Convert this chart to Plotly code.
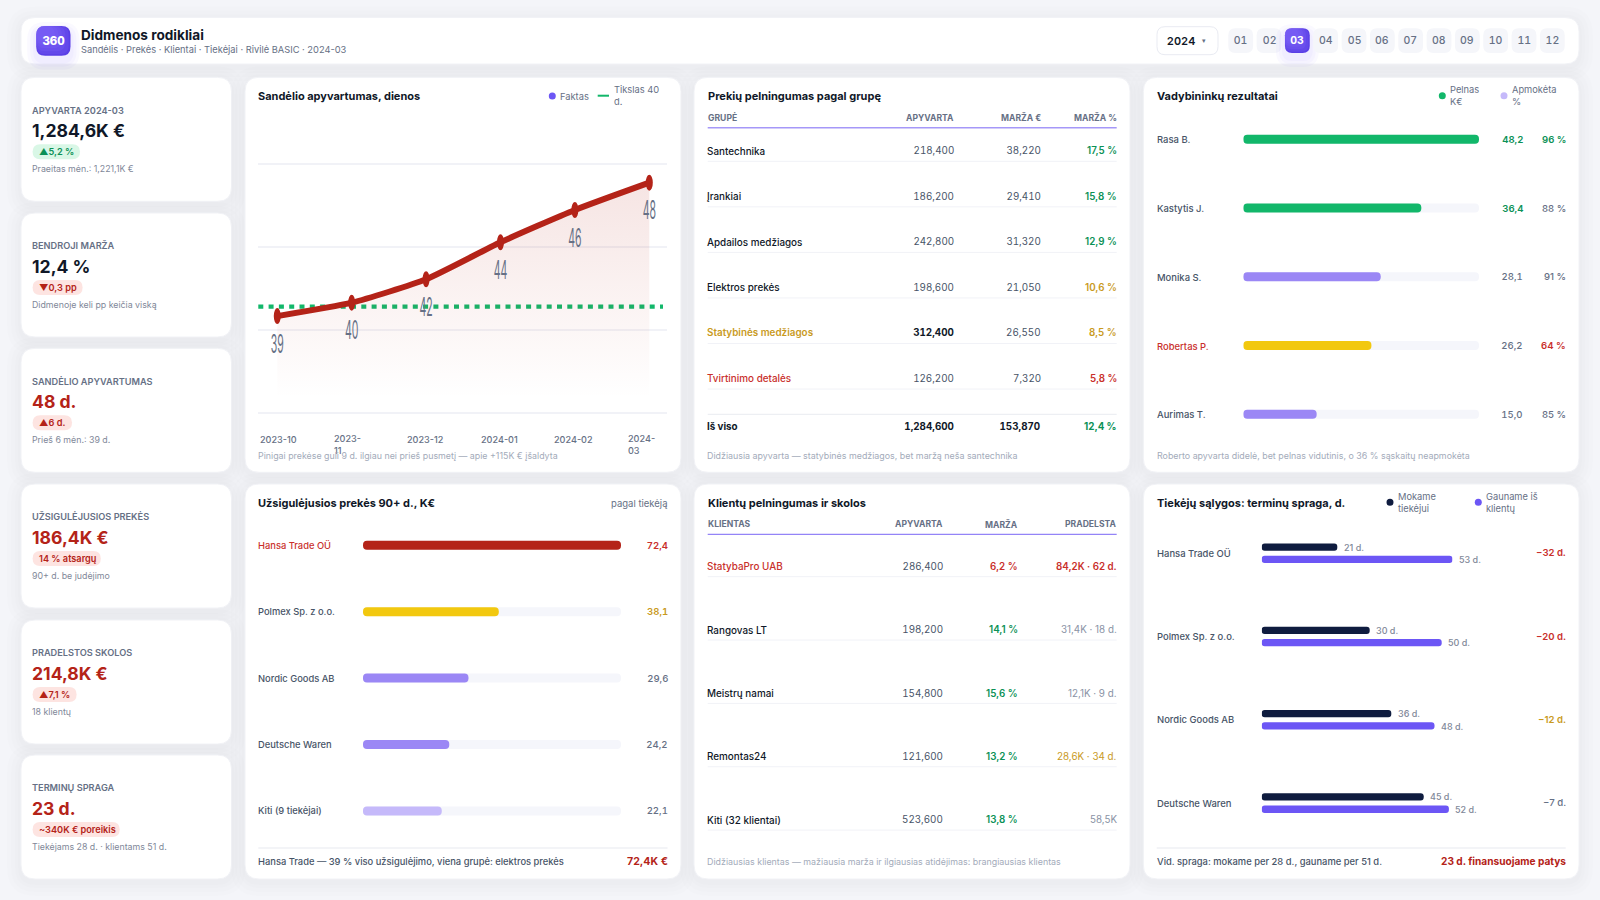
import plotly.graph_objects as go

W = 1600
H = 900
FONT = "Inter, Noto Sans, sans-serif"

# colours
DARK = "#101828"
TEXT = "#475467"
GREY = "#667085"
MUTED = "#a3abba"
RED = "#b42318"
RED2 = "#c9302c"
GREEN = "#0b9156"
GOLD = "#c99a1e"
BAR_GREEN = "#12b76a"
BAR_YELLOW = "#f2c80f"
BAR_PURPLE = "#9b87f5"
BAR_LIGHT = "#c5b9fa"
INDIGO = "#6c56f5"
NAVY = "#0f1c3f"
TRACK = "#f5f6fb"
LINE = "#f1f2f7"

# header
periods = ["01", "02", "03", "04", "05", "06", "07", "08", "09", "10", "11", "12"]
active_period = "03"

# kpi cards
kpi_labels = ["APYVARTA 2024-03", "BENDROJI MARŽA", "SANDĖLIO APYVARTUMAS", "UŽSIGULĖJUSIOS PREKĖS", "PRADELSTOS SKOLOS", "TERMINŲ SPRAGA"]
kpi_values = ["1,284,6K €", "12,4 %", "48 d.", "186,4K €", "214,8K €", "23 d."]
kpi_badges = ["▲5,2 %", "▼0,3 pp", "▲6 d.", "14 % atsargų", "▲7,1 %", "~340K € poreikis"]
kpi_notes = ["Praeitas mėn.: 1,221,1K €", "Didmenoje keli pp keičia viską", "Prieš 6 mėn.: 39 d.", "90+ d. be judėjimo", "18 klientų", "Tiekėjams 28 d. · klientams 51 d."]
kpi_bad = [False, False, True, True, True, True]
kpi_badge_good = [True, False, False, False, False, False]

# turnover chart
months = ["2023-10", "2023-11", "2023-12", "2024-01", "2024-02", "2024-03"]
turnover_days = [39.0, 39.97, 41.67, 44.35, 46.69, 48.67]
turnover_labels = ["39", "40", "42", "44", "46", "48"]
target_days = 39.68
month_ticks = ["2023-10", "2023-<br>11", "2023-12", "2024-01", "2024-02", "2024-<br>03"]

# groups table
groups = ["Santechnika", "Įrankiai", "Apdailos medžiagos", "Elektros prekės", "Statybinės medžiagos", "Tvirtinimo detalės"]
group_sales = ["218,400", "186,200", "242,800", "198,600", "312,400", "126,200"]
group_margin = ["38,220", "29,410", "31,320", "21,050", "26,550", "7,320"]
group_pct = ["17,5 %", "15,8 %", "12,9 %", "10,6 %", "8,5 %", "5,8 %"]
group_pct_col = [GREEN, GREEN, GREEN, GOLD, GOLD, RED2]
group_name_col = [DARK, DARK, DARK, DARK, GOLD, RED2]

# managers
managers = ["Rasa B.", "Kastytis J.", "Monika S.", "Robertas P.", "Aurimas T."]
manager_profit = [48.2, 36.4, 28.1, 26.2, 15.0]
manager_paid = [96, 88, 91, 64, 85]
manager_bar_col = [BAR_GREEN, BAR_GREEN, BAR_PURPLE, BAR_YELLOW, BAR_PURPLE]
manager_val_col = [GREEN, GREEN, GREY, GREY, GREY]
manager_paid_col = [GREEN, GREY, GREY, RED2, GREY]

# stale stock
stale_names = ["Hansa Trade OÜ", "Polmex Sp. z o.o.", "Nordic Goods AB", "Deutsche Waren", "Kiti (9 tiekėjai)"]
stale_values = [72.4, 38.1, 29.6, 24.2, 22.1]
stale_bar_col = [RED, BAR_YELLOW, BAR_PURPLE, BAR_PURPLE, BAR_LIGHT]
stale_val_col = [RED2, GOLD, GREY, GREY, GREY]
stale_name_col = [RED2, TEXT, TEXT, TEXT, TEXT]

# clients table
clients = ["StatybaPro UAB", "Rangovas LT", "Meistrų namai", "Remontas24", "Kiti (32 klientai)"]
client_sales = ["286,400", "198,200", "154,800", "121,600", "523,600"]
client_margin = ["6,2 %", "14,1 %", "15,6 %", "13,2 %", "13,8 %"]
client_margin_col = [RED2, GREEN, GREEN, GREEN, GREEN]
client_overdue = ["84,2K · 62 d.", "31,4K · 18 d.", "12,1K · 9 d.", "28,6K · 34 d.", "58,5K"]
client_overdue_col = [RED2, "#8a93a5", "#8a93a5", GOLD, "#8a93a5"]

# supplier terms
term_names = ["Hansa Trade OÜ", "Polmex Sp. z o.o.", "Nordic Goods AB", "Deutsche Waren"]
term_pay = [21, 30, 36, 45]
term_get = [53, 50, 48, 52]
term_gap_col = [RED2, RED2, GOLD, GREY]

shapes = []
notes = []


def px(x):
    return x / W


def py(y):
    return 1 - y / H


def rrect(x0, y0, x1, y1, r, fill, line=None, width=1):
    path = (f"M{px(x0+r)},{py(y0)} H{px(x1-r)} Q{px(x1)},{py(y0)} {px(x1)},{py(y0+r)} "
            f"V{py(y1-r)} Q{px(x1)},{py(y1)} {px(x1-r)},{py(y1)} H{px(x0+r)} "
            f"Q{px(x0)},{py(y1)} {px(x0)},{py(y1-r)} V{py(y0+r)} Q{px(x0)},{py(y0)} {px(x0+r)},{py(y0)} Z")
    shapes.append(dict(type="path", xref="paper", yref="paper", path=path, fillcolor=fill, layer="below",
                       line=dict(color=line or "rgba(0,0,0,0)", width=width if line else 0)))


def card(x0, y0, x1, y1, r=14):
    for s in (14, 10, 6, 3):
        rrect(x0 - s, y0 - s + 3, x1 + s, y1 + s + 3, r + s, "rgba(50,55,60,0.007)")
    rrect(x0, y0, x1, y1, r, "#ffffff", "#f1f2f6", 1)


def glow(x0, y0, x1, y1, r):
    for s in (9, 6, 3):
        rrect(x0 - s, y0 - s + 5, x1 + s, y1 + s + 5, r + s, "rgba(108,86,245,0.035)")


def violet_tile(x0, y0, x1, y1, r):
    # no gradient fill on shapes: light layers stacked towards the top left corner
    rrect(x0, y0, x1, y1, r, "#5a3fe6")
    w = x1 - x0
    h = y1 - y0
    for k in (0.95, 0.85, 0.75, 0.65, 0.55):
        rrect(x0, y0, x0 + w * k, y0 + h * k, r, "rgba(130,105,250,0.22)")


def hline(x0, x1, y, color=LINE, width=1):
    shapes.append(dict(type="line", xref="paper", yref="paper", x0=px(x0), x1=px(x1), y0=py(y), y1=py(y),
                       line=dict(color=color, width=width), layer="below"))


def dot(x, y, color, r=3.5):
    shapes.append(dict(type="circle", xref="paper", yref="paper", x0=px(x-r), x1=px(x+r), y0=py(y-r), y1=py(y+r),
                       fillcolor=color, line=dict(width=0), layer="below"))


def txt(x, y, s, size, color, weight=400, anchor="left", xref=None, yref=None, **kw):
    notes.append(dict(x=x if xref else px(x), y=y if yref else py(y), xref=xref or "paper", yref=yref or "paper",
                      text=s, showarrow=False, xanchor=anchor, yanchor="middle", align=anchor if anchor != "center" else "center",
                      borderpad=0, borderwidth=0, font=dict(family=FONT, size=size, color=color, weight=weight), **kw))


fig = go.Figure()


def round_bars(names, values, colors, xa, ya, width, offset=None):
    # a set base makes plotly round both ends of the bar
    fig.add_trace(go.Bar(y=names, x=values, base=[0] * len(values), orientation="h", xaxis=xa, yaxis=ya,
                         width=width, offset=offset, marker=dict(color=colors, cornerradius="50%", line=dict(width=0)),
                         hoverinfo="skip", showlegend=False))


# --- cards
card(21, 17.5, 1579, 64)
card_tops = [77.3, 213, 348.3, 484, 620, 755]
for t in card_tops:
    card(21, t, 231.5, t + 124)
for x0, x1 in [(245, 681), (694, 1130), (1143.3, 1579)]:
    card(x0, 77.3, x1, 472.3)
    card(x0, 484, x1, 879)

# --- header
glow(36.2, 26, 70.5, 55.7, 9)
violet_tile(36.2, 26, 70.5, 55.7, 9)
txt(53.4, 41, "360", 11.5, "#ffffff", 800, "center")
txt(80.8, 35, "Didmenos rodikliai", 13.6, DARK, 700)
txt(80.8, 49.3, "Sandėlis · Prekės · Klientai · Tiekėjai · Rivilė BASIC · 2024-03", 9.3, GREY)
rrect(1157, 26.7, 1218, 54.7, 8, "#ffffff", "#e9ebf2", 1)
txt(1180.7, 41, "2024", 11, DARK, 600, "center")
txt(1204.3, 40.5, "▾", 7, GREY, 400, "center")
for i, p in enumerate(periods):
    cx = 1240.7 + i * 28.33
    on = p == active_period
    if on:
        glow(cx - 12.4, 28.3, cx + 12.4, 53, 7)
        violet_tile(cx - 12.4, 28.3, cx + 12.4, 53, 7)
    else:
        rrect(cx - 12.4, 28.3, cx + 12.4, 53, 7, "#f5f6fa")
    txt(cx, 40.7, p, 10.5, "#ffffff" if on else GREY, 700 if on else 500, "center")

# --- kpi
badge_w = [47.4, 50, 39.4, 68.2, 44, 87.1]
for i, t in enumerate(card_tops):
    txt(32, t + 32.7, kpi_labels[i], 9.2, GREY, 600)
    txt(32, t + 53.6, kpi_values[i], 17.6, RED if kpi_bad[i] else DARK, 700)
    good = kpi_badge_good[i]
    rrect(32.6, t + 66.9, 32.6 + badge_w[i], t + 81.9, 7.5, "#d9f7e6" if good else "#fde4e1")
    txt(39.3, t + 74.4, kpi_badges[i], 9.2, GREEN if good else RED, 600)
    txt(32, t + 91.4, kpi_notes[i], 8.8, "#7f8899")

# --- turnover line chart
txt(258.3, 96, "Sandėlio apyvartumas, dienos", 11, DARK, 700)
dot(552.3, 96, INDIGO)
txt(560, 96, "Faktas", 9.3, GREY)
hline(597.7, 609, 95.7, BAR_GREEN, 2)
txt(614, 95.7, "Tikslas 40<br>d.", 9.3, GREY)
shapes.append(dict(type="line", xref="paper", yref="y", x0=px(258.3), x1=px(663), y0=target_days, y1=target_days,
                   line=dict(color=BAR_GREEN, width=4.2, dash="5px,5.3px"), layer="below"))
fig.add_trace(go.Scatter(x=months, y=turnover_days, mode="lines", line=dict(color=RED, width=6, shape="spline", smoothing=0.55),
                         fill="tozeroy", fillgradient=dict(type="vertical", start=33, stop=48.6,
                                                           colorscale=[[0, "rgba(180,35,24,0)"], [1, "rgba(180,35,24,0.12)"]]),
                         hoverinfo="skip", showlegend=False))
fig.add_trace(go.Scatter(x=months, y=turnover_days, mode="text", text=turnover_labels, textposition="bottom center",
                         textfont=dict(family=FONT, size=25, color=GREY), hoverinfo="skip", showlegend=False, cliponaxis=False))
for m, v in zip(months, turnover_days):
    shapes.append(dict(type="circle", xref="x", yref="y", xsizemode="pixel", ysizemode="pixel", xanchor=m, yanchor=v,
                       x0=-3.5, x1=3.5, y0=-8, y1=8, fillcolor=RED, line=dict(width=0), layer="above"))
for i, m in enumerate(month_ticks):
    txt(260 + i * 73.6, 439.3 if "<br>" not in m else 444.8, m, 9.1, GREY, 500)
txt(258.3, 455, "Pinigai prekėse guli 9 d. ilgiau nei prieš pusmetį — apie +115K € įšaldyta", 8.85, MUTED)

# --- groups table
txt(707.7, 96, "Prekių pelningumas pagal grupę", 11, DARK, 700)
for s, x, a in [("GRUPĖ", 707.5, "left"), ("APYVARTA", 954.3, "right"), ("MARŽA €", 1041.3, "right"), ("MARŽA %", 1116.7, "right")]:
    txt(x, 117.7, s, 8.6, GREY, 700, a)
hline(707.7, 1116.7, 127.7, "#a598f8", 1.5)
for i in range(len(groups)):
    y = 150.7 + i * 45.55
    txt(707.3, y, groups[i], 9.9, group_name_col[i], 600 if i == 4 else 500)
    txt(954.3, y, group_sales[i], 9.8, DARK if i == 4 else TEXT, 700 if i == 4 else 400, "right")
    txt(1041.3, y, group_margin[i], 9.8, TEXT, 400, "right")
    txt(1116.7, y, group_pct[i], 9.8, group_pct_col[i], 600, "right")
    hline(707.7, 1116.7, y + 10.6)
hline(707.7, 1116.7, 414.3, "#e9ebf1", 1)
txt(707.3, 426.3, "Iš viso", 9.8, DARK, 700)
txt(954.3, 426.3, "1,284,600", 9.8, DARK, 700, "right")
txt(1041.3, 426.3, "153,870", 9.8, DARK, 700, "right")
txt(1116.7, 426.3, "12,4 %", 9.8, GREEN, 700, "right")
txt(707.3, 455, "Didžiausia apyvarta — statybinės medžiagos, bet maržą neša santechnika", 8.9, MUTED)

# --- managers
txt(1156.7, 96, "Vadybininkų rezultatai", 11, DARK, 700)
dot(1442.3, 95.7, BAR_GREEN)
txt(1450.3, 95.7, "Pelnas<br>K€", 9.3, GREY)
dot(1504, 95.7, BAR_LIGHT)
txt(1512, 95.7, "Apmokėta<br>%", 9.3, GREY)
round_bars(managers, [max(manager_profit)] * 5, TRACK, "x2", "y2", 9 / 68.75)
round_bars(managers, manager_profit, manager_bar_col, "x2", "y2", 9 / 68.75)
for i, m in enumerate(managers):
    txt(1156.7, m, m, 9.45, RED2 if i == 3 else TEXT, 500, yref="y2", yshift=-0.5)
    txt(1522.7, m, f"{manager_profit[i]:.1f}".replace(".", ","), 9.6, manager_val_col[i], 600 if i < 2 else 500, "right", yref="y2")
    txt(1565.7, m, f"{manager_paid[i]} %", 9.6, manager_paid_col[i], 600 if manager_paid_col[i] != GREY else 500, "right", yref="y2")
txt(1156.7, 455, "Roberto apyvarta didelė, bet pelnas vidutinis, o 36 % sąskaitų neapmokėta", 8.9, MUTED)

# --- stale stock
txt(258.3, 502.7, "Užsigulėjusios prekės 90+ d., K€", 11, DARK, 700)
txt(667.5, 503.5, "pagal tiekėją", 9.5, GREY, 400, "right")
round_bars(stale_names, [max(stale_values)] * 5, TRACK, "x3", "y3", 9 / 66.4)
round_bars(stale_names, stale_values, stale_bar_col, "x3", "y3", 9 / 66.4)
for i, m in enumerate(stale_names):
    txt(258.3, m, m, 9.35, stale_name_col[i], 500, yref="y3")
    txt(667.5, m, f"{stale_values[i]:.1f}".replace(".", ","), 9.6, stale_val_col[i], 600 if i < 2 else 500, "right", yref="y3")
hline(258.3, 667.5, 848, "#eff0f5", 1.5)
txt(258.3, 861.7, "Hansa Trade — 39 % viso užsigulėjimo, viena grupė: elektros prekės", 9.35, TEXT, 500)
txt(667.5, 861.7, "72,4K €", 10.6, RED, 700, "right")

# --- clients table
txt(707.7, 502.7, "Klientų pelningumas ir skolos", 11, DARK, 700)
for s, x, a in [("KLIENTAS", 707.5, "left"), ("APYVARTA", 943, "right"), ("MARŽA", 1018.3, "right"), ("PRADELSTA", 1116.7, "right")]:
    txt(x, 524.3, s, 8.6, GREY, 700, a)
hline(707.7, 1116.7, 534.3, "#7a66f5", 1)
for i in range(len(clients)):
    y = 566.3 + i * 63.35
    txt(707.3, y, clients[i], 9.9, RED2 if i == 0 else DARK, 500)
    txt(943, y, client_sales[i], 9.8, TEXT, 400, "right")
    txt(1018.3, y, client_margin[i], 9.8, client_margin_col[i], 600, "right")
    txt(1116.7, y, client_overdue[i], 9.8, client_overdue_col[i], 600 if i == 0 else 400, "right")
    hline(707.7, 1116.7, y + 10.4)
txt(707.3, 861.7, "Didžiausias klientas — mažiausia marža ir ilgiausias atidėjimas: brangiausias klientas", 8.9, MUTED)

# --- supplier terms
txt(1156.7, 502.7, "Tiekėjų sąlygos: terminų spraga, d.", 11, DARK, 700)
dot(1390, 502.3, NAVY)
txt(1397.7, 502.2, "Mokame<br>tiekėjui", 9.3, GREY)
dot(1478.3, 502.3, INDIGO)
txt(1485.7, 502.2, "Gauname iš<br>klientų", 9.3, GREY)
bar_h = 7.3 / 83.3
gap = 2.5 / 83.3
round_bars(term_names, term_pay, NAVY, "x4", "y4", bar_h, -gap - bar_h)
round_bars(term_names, term_get, INDIGO, "x4", "y4", bar_h, gap)
for i, m in enumerate(term_names):
    txt(1156.7, m, m, 9.45, TEXT, 500, yref="y4")
    txt(term_pay[i], m, f"{term_pay[i]} d.", 9, "#7f8899", 500, xref="x4", yref="y4", xshift=6.2, yshift=6.2)
    txt(term_get[i], m, f"{term_get[i]} d.", 9, "#7f8899", 500, xref="x4", yref="y4", xshift=6.2, yshift=-6.2)
    txt(1565.7, m, f"−{term_get[i] - term_pay[i]} d.", 9.6, term_gap_col[i], 600 if i < 3 else 500, "right", yref="y4", yshift=0.5)
hline(1156.7, 1565.7, 848, "#eff0f5", 1.5)
txt(1156.7, 861.7, "Vid. spraga: mokame per 28 d., gauname per 51 d.", 9.4, TEXT, 500)
txt(1565.7, 861.7, "23 d. finansuojame patys", 10.15, RED, 700, "right")


def hidden(x0, x1, rng, anchor):
    return dict(domain=[px(x0), px(x1)], range=rng, visible=False, fixedrange=True, anchor=anchor)


def rows(names, c0, step, anchor):
    return dict(domain=[py(c0 + (len(names) - 0.5) * step), py(c0 - 0.5 * step)], type="category",
                range=[len(names) - 0.5, -0.5], visible=False, fixedrange=True, anchor=anchor)


fig.update_layout(
    width=W, height=H, margin=dict(l=0, r=0, t=0, b=0), paper_bgcolor="#f4f5f9", plot_bgcolor="rgba(0,0,0,0)",
    barmode="overlay", showlegend=False, shapes=shapes, annotations=notes, font=dict(family=FONT),
    xaxis=dict(domain=[px(258.3), px(667.3)], type="category", range=[-0.255, 5.242], showgrid=False, zeroline=False,
               showticklabels=False, ticks="", showline=False, fixedrange=True, anchor="y"),
    # range padded a little, plotly drops gridlines that sit exactly on the ends
    yaxis=dict(domain=[py(414.08), py(162.92)], range=[31.9, 50.1], tickvals=[32, 38, 44, 50], gridcolor=LINE, gridwidth=2,
               zeroline=False, showticklabels=False, ticks="", showline=False, fixedrange=True, anchor="x"),
    xaxis2=hidden(1243.3, 1479, [0, max(manager_profit)], "y2"),
    yaxis2=rows(managers, 139.3, 68.75, "x2"),
    xaxis3=hidden(363, 621, [0, max(stale_values)], "y3"),
    yaxis3=rows(stale_names, 545.3, 66.4, "x3"),
    xaxis4=hidden(1261.7, 1261.7 + 53 * 3.6, [0, 53], "y4"),
    yaxis4=rows(term_names, 553.2, 83.3, "x4"),
)

# the labels in the reference are squeezed sideways, plotly has no option for it
post = """
document.body.style.margin = '0';
document.documentElement.style.overflow = 'hidden';
document.querySelectorAll('.textpoint text').forEach(function (t) {
  var x = t.getAttribute('x'), y = t.getAttribute('y');
  t.setAttribute('transform', 'translate(' + x + ' ' + (+y + 18) + ') scale(0.42 1) translate(' + (-x) + ' ' + (-y) + ')');
});
document.querySelectorAll('.annotation-text').forEach(function (t) {
  if (/^[0-9,]+$/.test(t.textContent)) { t.style.fontFeatureSettings = '"tnum"'; }
});
"""
fig.write_html("out.html", post_script=post, config={"displayModeBar": False})
